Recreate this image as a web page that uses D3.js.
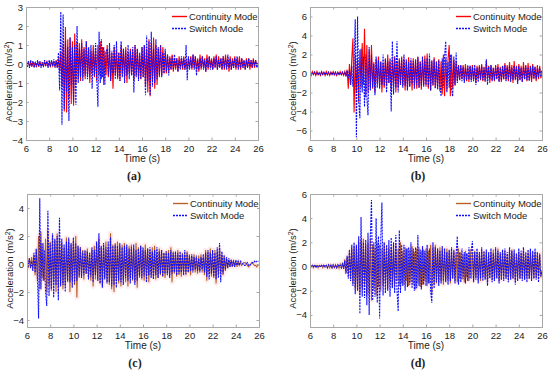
<!DOCTYPE html>
<html>
<head>
<meta charset="utf-8">
<script src="https://d3js.org/d3.v7.min.js"></script>
<style>
  body { margin: 0; background: #fff; }
  svg text { font-family: "Liberation Sans", Arial, sans-serif; fill: #222; }
  .cap { font-family: "Liberation Serif", "Times New Roman", serif; font-weight: bold; }
</style>
</head>
<body>
<svg id="chart" width="550" height="374"></svg>
<script>
// time axis: 6 s to 26 s, one value every 0.1 s
var tStart = 6, tStep = 0.1;
var xTicks = [6, 8, 10, 12, 14, 16, 18, 20, 22, 24, 26];

// (a)
var contA = [
  0.05,-0.1,0.08,-0.12,0.1,-0.15,0.12,-0.1,0.08,-0.12,
  0.1,-0.15,0.12,-0.1,0.05,-0.12,0.1,-0.08,0.12,-0.1,
  0.08,-0.12,0.15,-0.1,0.1,-0.15,0.2,-0.2,0.3,-0.4,
  0.6,-1.2,1.0,-2.5,1.95,-2.55,1.3,-1.8,1.4,-2.1,
  1.2,-2.2,1.6,-1.0,1.2,-0.8,1.1,-0.9,1.3,-0.7,
  0.9,-0.8,1.2,-0.6,0.8,-1.0,0.7,-0.5,1.0,-0.7,
  0.8,-0.9,1.0,-0.6,1.2,-0.8,0.9,-1.1,0.7,-0.6,
  1.0,-0.7,0.8,-0.9,0.6,-1.3,0.9,-0.6,0.7,-0.8,
  0.6,-0.9,1.0,-0.5,0.8,-0.7,0.9,-1.0,0.6,-0.5,
  0.8,-0.6,0.7,-0.9,1.0,-0.6,0.8,-0.7,0.5,-0.8,
  0.9,-0.7,1.0,-1.2,0.8,-1.5,1.3,-1.7,1.1,-0.9,
  1.4,-1.3,1.0,-1.1,0.8,-0.7,1.0,-0.6,0.9,-0.5,
  0.6,-0.5,0.5,-0.4,0.4,-0.3,0.5,-0.4,0.3,-0.3,
  0.3,-0.4,0.4,-0.2,0.3,-0.3,0.4,-0.3,0.2,-0.3,
  0.3,-0.2,0.4,-0.3,0.5,-0.2,0.4,-0.3,0.3,-0.4,
  0.5,-0.3,0.4,-0.2,0.3,-0.4,0.5,-0.3,0.4,-0.2,
  0.3,-0.3,0.4,-0.2,0.5,-0.3,0.4,-0.2,0.3,-0.3,
  0.4,-0.3,0.5,-0.2,0.3,-0.4,0.4,-0.3,0.3,-0.2,
  0.4,-0.3,0.3,-0.2,0.4,-0.3,0.3,-0.2,0.2,-0.3,
  0.3,-0.2,0.3,-0.3,0.2,-0.2,0.3,-0.2,0.2,-0.1,
  -0.1];
var switchA = [
  0.2,-0.15,0.15,-0.2,0.2,-0.1,0.15,-0.2,0.1,-0.15,
  0.2,-0.1,0.15,-0.2,0.1,-0.15,0.2,-0.1,0.15,-0.2,
  0.2,-0.15,0.2,-0.1,0.25,-0.2,0.15,-0.2,0.6,-1.4,
  2.75,-3.2,2.6,-2.4,1.2,-1.5,0.9,-3.0,1.4,-1.1,
  0.9,-2.0,1.0,-2.15,2.0,-1.0,0.8,-0.7,1.1,-0.9,
  0.8,-0.6,1.2,-0.8,0.9,-0.7,1.0,-1.3,0.7,-0.6,
  1.1,-0.8,-2.25,1.7,-1.0,1.3,-0.7,0.9,-1.1,0.6,
  0.8,-0.6,1.1,-0.9,0.7,-0.5,1.0,-0.8,1.2,-0.7,
  0.6,-0.9,1.2,-0.7,0.8,-1.0,0.7,-0.6,1.0,-0.8,
  0.7,-0.6,0.9,-1.5,1.0,-0.7,0.8,-0.9,0.6,-0.8,
  0.9,-0.7,1.0,-1.65,1.5,-0.9,1.2,-1.65,1.7,-1.2,
  0.8,-1.0,1.3,-0.8,0.9,-0.6,1.0,-0.7,0.6,-0.5,
  0.8,-0.4,0.5,-0.6,0.3,-0.3,0.4,-0.3,0.5,-0.2,
  0.3,-0.4,0.2,-0.3,0.4,-0.2,0.3,-0.3,1.0,-0.85,
  0.4,-0.3,0.3,-0.2,0.5,-0.3,0.4,-0.6,0.2,-0.3,
  0.3,-0.2,0.4,-0.3,0.2,-0.4,0.3,-0.2,0.4,-0.3,
  0.2,-0.3,0.3,-0.2,0.4,-0.3,0.2,-0.2,0.3,-0.3,
  0.4,-0.2,0.3,-0.3,0.5,-0.2,0.3,-0.3,0.2,-0.2,
  0.3,-0.2,0.4,-0.3,0.2,-0.2,0.3,-0.2,0.2,-0.3,
  0.2,-0.2,0.3,-0.1,0.2,-0.2,0.2,-0.1,0.2,-0.2,
  0.1];

// (b)
var contB = [
  0.1,-0.2,0.2,-0.1,0.15,-0.2,0.2,-0.15,0.1,-0.2,
  0.2,-0.1,0.15,-0.2,0.2,-0.15,0.1,-0.2,0.15,-0.1,
  0.2,-0.15,0.1,-0.2,0.15,-0.1,0.2,-0.15,0.1,-0.2,
  0.2,-0.3,0.4,-1.6,1.0,-1.2,1.5,3.7,-4.1,2.0,
  -2.0,1.5,-3.0,2.5,-1.5,3.2,-1.2,4.7,-2.5,3.0,
  -2.0,2.5,-1.5,3.0,-1.6,1.2,-2.0,1.5,-1.0,1.8,
  -1.4,1.3,-2.0,1.0,-1.5,1.6,-1.2,2.0,-1.0,1.3,
  -1.8,1.5,-1.3,1.8,-2.0,1.2,-1.5,1.6,-1.2,1.8,
  -1.3,1.5,-1.8,1.2,-1.6,1.7,-1.4,1.3,-1.8,1.6,
  -1.2,1.5,-1.6,1.8,-1.5,1.3,-1.7,1.5,-1.2,1.9,
  -1.4,2.1,-1.6,1.5,-1.8,1.4,-1.3,1.7,-1.5,1.3,
  -1.6,1.5,-1.9,1.3,-2.2,2.0,-2.4,1.6,-1.8,1.5,
  3.0,-2.4,2.0,-1.6,1.4,-1.3,1.2,-0.8,0.9,-0.7,
  0.8,-0.6,0.9,-0.7,1.0,-0.8,0.7,-0.9,0.8,-0.6,
  0.9,-0.7,0.6,-1.0,0.8,-0.6,0.9,-0.7,1.0,-0.8,
  0.7,-0.9,1.3,-0.6,0.8,-1.0,0.9,-0.7,0.6,-0.8,
  0.9,-0.6,1.0,-0.8,0.7,-0.9,0.8,-0.6,1.1,-0.7,
  0.9,-0.8,1.2,-0.6,0.9,-1.0,1.3,-0.7,0.8,-0.9,
  1.0,-0.7,0.8,-0.9,1.2,-0.6,0.9,-0.8,1.1,-0.7,
  0.8,-0.9,1.0,-0.6,0.7,-0.8,0.9,-0.6,0.8,-0.5,
  0.3];
var switchB = [
  0.1,-0.15,0.1,-0.1,0.15,-0.1,0.1,-0.15,0.1,-0.1,
  0.15,-0.1,0.1,-0.15,0.1,-0.1,0.15,-0.1,0.1,-0.15,
  0.1,-0.1,0.15,-0.1,0.1,-0.15,0.1,-0.1,0.15,-0.1,
  0.1,-0.2,0.3,-0.5,0.4,-1.2,0.8,-1.4,1.2,5.7,
  -6.7,6.0,-3.0,-4.7,2.6,-2.0,1.8,-3.5,2.0,-2.5,
  -4.4,2.8,-1.8,2.0,-1.5,1.0,-2.3,1.8,-1.5,1.4,
  -1.6,1.2,-1.2,2.0,-1.3,1.5,-2.0,1.3,-1.0,1.6,
  -4.0,3.4,-2.2,1.8,-1.5,3.4,-2.0,1.4,-1.2,1.6,
  -1.5,2.0,-1.3,1.5,-1.8,1.2,-1.4,1.6,-1.1,1.3,
  -1.6,1.4,-1.2,1.7,-1.5,1.2,-1.3,1.8,-1.4,1.5,
  -1.2,1.6,-1.4,2.1,-1.8,1.3,-1.2,1.5,-1.6,1.2,
  -1.7,1.4,-1.3,-2.4,1.6,-1.5,1.8,3.4,-2.0,1.2,
  -1.5,2.0,-1.6,-2.4,1.8,-1.2,2.2,-1.0,0.8,-0.7,
  0.9,-0.8,0.7,-1.0,0.6,-0.7,0.9,-0.6,0.8,-0.9,
  0.7,-0.8,0.9,-1.2,0.6,-0.9,0.7,-0.6,0.8,-0.7,
  0.6,-0.8,1.5,-1.2,0.7,-0.6,0.9,-0.8,0.6,-0.7,
  0.8,-0.6,0.7,-0.9,0.6,-0.7,0.8,-0.6,0.9,-0.8,
  0.7,-0.6,0.8,-0.9,0.6,-0.7,0.8,-0.6,0.7,-1.1,
  0.8,-0.7,0.6,-0.9,0.7,-0.6,0.8,-0.7,0.6,-0.8,
  0.7,-0.6,0.8,-0.5,0.7,-0.6,0.5,-0.4,0.6,-0.3,
  0.3];

// (c)
var contC = [
  0.2,-0.3,0.4,-0.2,0.5,-0.3,0.6,-0.8,1.0,-1.2,
  2.0,-1.8,2.3,-1.0,1.5,-1.2,1.8,-2.0,2.4,-1.5,
  1.6,-1.8,2.0,-1.3,1.7,-2.0,2.2,-1.6,1.8,-1.4,
  1.5,-1.8,1.2,-1.6,1.9,-1.3,1.6,-2.0,1.4,-1.2,
  1.7,-1.5,2.0,-2.4,1.3,-1.0,1.2,-0.8,1.0,-1.1,
  0.9,-0.7,1.1,-0.9,0.8,-1.2,1.0,-1.6,1.3,-1.1,
  1.5,-1.2,1.8,-1.4,1.2,-1.6,1.4,-1.0,1.6,-1.3,
  1.2,-1.5,2.2,-1.8,1.4,-2.0,1.5,-1.2,1.6,-1.4,
  1.3,-1.6,1.4,-1.1,1.5,-1.3,1.2,-1.6,1.3,-1.0,
  1.4,-1.2,1.1,-1.3,1.5,-1.7,1.2,-1.0,1.3,-1.1,
  1.0,-1.2,1.4,-0.9,1.1,-1.3,1.0,-0.8,1.2,-1.0,
  1.3,-1.1,0.9,-1.0,1.1,-0.8,1.0,-0.9,0.8,-1.0,
  0.9,-0.7,1.0,-0.8,1.2,-1.3,0.9,-0.7,0.8,-0.9,
  1.0,-0.8,0.7,-0.9,0.8,-0.6,0.7,-0.8,0.9,-0.6,
  0.7,-0.8,0.6,-0.5,0.7,-0.6,0.5,-0.7,0.6,-0.5,
  0.7,-0.6,0.5,-0.8,1.0,-1.2,0.9,-0.7,1.1,-0.9,
  0.8,-1.0,1.0,-1.4,0.9,-0.8,1.1,-0.6,0.7,-0.8,
  0.6,-0.5,0.4,-0.3,0.3,-0.2,0.3,-0.2,0.2,-0.2,
  0.2,-0.2,0.2,-0.1,0.1,-0.1,0.0,0.1,0.1,0.0,
  -0.1,-0.2,-0.1,0.0,0.1,0.0,-0.1,-0.1,-0.2,-0.1,
  0.0];
var switchC = [
  0.3,-0.2,0.4,-0.3,0.2,-0.5,0.8,-0.6,1.1,-1.0,
  -3.9,4.7,-1.8,1.5,-1.2,1.0,-2.0,-3.0,3.8,-2.3,
  1.5,-1.9,2.2,-2.4,1.8,-1.5,2.0,-2.6,3.3,-1.6,
  1.8,-1.5,1.4,-2.0,1.6,-1.2,1.9,-1.3,1.5,-1.7,
  1.9,-1.4,1.5,-1.2,1.3,-0.9,1.2,-1.0,0.9,-0.8,
  1.0,-0.7,0.9,-1.1,0.8,-0.9,1.2,-1.3,1.0,-0.8,
  1.6,-1.2,2.2,-1.4,1.3,-1.7,1.5,-1.1,1.2,-1.4,
  1.6,-1.3,1.9,-1.6,1.3,-1.5,1.4,-1.7,1.3,-1.2,
  1.5,-1.3,1.2,-1.5,1.3,-1.0,1.4,-1.2,1.1,-1.4,
  1.2,-1.1,1.4,-1.5,1.0,-1.2,1.1,-0.9,1.3,-1.0,
  1.2,-0.9,1.0,-1.3,1.1,-0.8,1.2,-1.0,0.9,-1.1,
  1.0,-0.8,1.2,-1.0,0.9,-0.7,1.0,-0.9,0.8,-0.7,
  0.9,-0.8,0.8,-1.0,1.0,-0.7,0.8,-0.6,0.9,-0.8,
  0.8,-0.7,0.9,-0.6,0.7,-0.8,1.0,-0.7,0.8,-0.6,
  0.6,-0.5,0.7,-0.6,0.5,-0.4,0.6,-0.5,0.4,-0.6,
  0.5,-0.4,0.7,-0.6,0.8,-0.9,1.0,-1.1,0.8,-0.7,
  1.0,-0.9,0.8,-1.1,1.2,-1.0,1.5,-1.3,0.9,-0.7,
  0.6,-0.4,0.5,-0.3,0.4,-0.2,0.3,-0.2,0.3,-0.2,
  0.3,-0.1,0.2,-0.1,0.2,0.1,0.0,-0.1,-0.1,0.0,
  0.1,-0.1,-0.1,0.0,0.1,0.1,0.2,0.1,0.2,0.2,
  0.2];

// (d)
var contD = [
  0.1,0.0,0.1,-0.1,0.1,0.0,0.1,-0.1,0.1,0.0,
  0.1,-0.1,0.1,0.0,0.1,-0.1,0.1,-0.1,0.15,-0.1,
  0.1,-0.1,0.15,-0.1,0.1,-0.15,0.2,-0.1,0.3,-0.2,
  0.6,-0.5,0.8,-0.6,1.2,-1.0,1.5,-1.4,1.7,-1.8,
  1.6,-2.0,2.0,-2.2,2.2,-1.8,2.3,-1.5,1.8,-2.4,
  2.0,-2.2,2.3,-2.8,1.8,-2.0,1.6,-2.4,2.0,-1.7,
  1.8,-2.0,1.5,-1.6,2.0,-1.4,1.7,-1.8,1.5,-1.3,
  1.6,-1.7,1.4,-1.5,1.8,-1.2,1.5,-1.6,2.0,-1.4,
  1.3,-1.5,1.6,-1.2,1.5,-1.6,1.4,-1.3,1.7,-1.5,
  1.2,-1.9,1.5,-1.4,1.6,-1.7,1.3,-1.5,1.4,-1.2,
  1.5,-1.6,1.3,-1.4,1.8,-2.2,1.6,-1.5,1.8,-1.4,
  1.5,-1.3,1.6,-1.2,1.4,-1.5,1.3,-1.2,1.5,-1.1,
  1.3,-1.4,1.2,-1.0,1.4,-1.2,1.1,-1.3,1.5,-1.0,
  1.2,-1.1,1.0,-1.3,1.3,-0.9,1.1,-1.2,1.4,-1.0,
  1.1,-1.2,1.3,-0.9,1.2,-1.1,1.0,-1.2,1.3,-0.9,
  1.2,-1.0,1.1,-1.3,1.0,-0.9,1.2,-1.1,1.4,-1.0,
  1.1,-0.9,1.5,-1.2,1.0,-1.1,1.2,-0.8,1.3,-1.0,
  1.0,-1.1,1.2,-0.9,1.4,-1.0,1.1,-1.2,1.0,-0.8,
  1.2,-1.0,1.1,-0.9,1.3,-1.1,1.0,-0.9,1.2,-1.0,
  1.1,-0.8,1.0,-1.0,1.2,-0.9,1.0,-0.8,1.1,-0.9,
  -0.3];
var switchD = [
  0.15,-0.05,0.1,0.0,0.15,-0.1,0.1,0.0,0.1,-0.05,
  0.1,0.0,0.15,-0.05,0.1,-0.1,0.15,0.0,0.1,-0.1,
  0.15,-0.05,0.1,-0.1,0.15,0.0,0.1,-0.1,0.2,-0.2,
  0.5,-0.6,0.9,-1.0,1.4,-1.2,1.8,-1.6,2.0,-2.3,
  1.8,-2.0,2.5,-3.9,4.1,-2.5,2.0,-2.6,2.2,-3.2,
  2.8,-4.0,2.5,5.5,-2.8,2.0,-2.5,4.0,-3.0,2.5,
  -4.3,2.3,5.3,-2.4,2.0,-2.2,1.8,-2.0,2.2,-2.5,
  2.4,-1.8,2.0,-2.2,2.6,-2.0,-3.7,3.0,-2.2,1.8,
  -1.6,1.8,-2.0,1.5,-1.7,1.6,-1.5,2.0,-1.8,1.5,
  -2.0,1.6,-1.8,2.6,-1.6,1.4,-1.9,1.7,-1.5,1.3,
  -1.6,1.8,-1.4,1.5,-2.0,-3.0,2.0,-1.8,1.6,-1.3,
  1.5,-1.6,1.3,-1.4,1.7,-1.2,1.5,-1.3,1.2,-1.5,
  1.4,-1.2,1.6,-1.0,1.3,-1.4,1.1,2.5,-1.5,1.2,
  -1.3,1.5,-1.0,1.2,-1.4,1.1,-1.2,1.6,-1.0,1.3,
  2.1,-1.3,1.2,-1.1,1.5,-1.4,1.2,-1.0,1.6,-1.2,
  1.3,-1.1,1.4,-1.6,1.2,-1.0,1.5,-1.3,1.1,-1.2,
  1.6,-1.0,1.3,-1.4,1.2,-1.1,1.4,-1.2,1.5,-1.0,
  1.2,-1.3,1.6,-1.1,1.3,-1.0,1.4,-1.5,1.1,-1.2,
  1.5,-1.0,1.3,-1.2,1.6,-1.1,1.2,-1.3,1.4,-1.0,
  1.5,-1.2,1.3,-1.0,1.5,-1.1,1.2,-1.3,1.0,-0.8,
  -0.4];

var panels = [
  { cap: "(a)", left: 26,  top: 7,   yDom: [-4, 3],   yTicks: [-4,-3,-2,-1,0,1,2,3], cont: contA, sw: switchA, contColor: "#ff0000", haze: false },
  { cap: "(b)", left: 310, top: 7,   yDom: [-7, 7],   yTicks: [-6,-4,-2,0,2,4,6],    cont: contB, sw: switchB, contColor: "#ff0000", haze: false },
  { cap: "(c)", left: 27,  top: 194, yDom: [-4.5, 5], yTicks: [-4,-2,0,2,4],         cont: contC, sw: switchC, contColor: "#b8602a", haze: true },
  { cap: "(d)", left: 310, top: 194, yDom: [-5, 6],   yTicks: [-4,-2,0,2,4,6],       cont: contD, sw: switchD, contColor: "#b8602a", haze: true }
];

var W = 232, H = 133;
var svg = d3.select("#chart");

panels.forEach(function (p) {
  var g = svg.append("g").attr("transform", "translate(" + p.left + "," + p.top + ")");
  var x = d3.scaleLinear().domain([6, 26]).range([0, W]);
  var y = d3.scaleLinear().domain(p.yDom).range([H, 0]);

  g.append("defs").append("clipPath").attr("id", "clip" + p.left + p.top)
    .append("rect").attr("width", W).attr("height", H);

  var line = d3.line()
    .x(function (d, i) { return x(tStart + i * tStep); })
    .y(function (d) { return y(d); });

  var plot = g.append("g").attr("clip-path", "url(#clip" + p.left + p.top + ")");
  if (p.haze) {
    plot.append("path").datum(p.cont).attr("d", line)
      .attr("fill", "none").attr("stroke", "#ff8080").attr("stroke-width", 5)
      .attr("stroke-opacity", 0.15).attr("stroke-linejoin", "round");
  }
  plot.append("path").datum(p.cont).attr("d", line)
    .attr("fill", "none").attr("stroke", p.contColor).attr("stroke-width", 1.1);
  plot.append("path").datum(p.sw).attr("d", line)
    .attr("fill", "none").attr("stroke", "#1010ff").attr("stroke-width", 1.1)
    .attr("stroke-dasharray", "2,1");

  // axes, MATLAB style box with inward ticks
  var fmt = d3.format("d");
  var ax = g.append("g").attr("transform", "translate(0," + H + ")")
    .call(d3.axisBottom(x).tickValues(xTicks).tickSize(-2.5).tickPadding(5).tickFormat(fmt));
  var axTop = g.append("g").call(d3.axisTop(x).tickValues(xTicks).tickSize(-2.5).tickFormat(""));
  var ay = g.append("g").call(d3.axisLeft(y).tickValues(p.yTicks).tickSize(-2.5).tickPadding(3).tickFormat(fmt));
  var ayR = g.append("g").attr("transform", "translate(" + W + ",0)")
    .call(d3.axisRight(y).tickValues(p.yTicks).tickSize(-2.5).tickFormat(""));
  [ax, axTop, ay, ayR].forEach(function (a) {
    a.select(".domain").attr("stroke", "#a8a8a8");
    a.selectAll(".tick line").attr("stroke", "#a8a8a8");
    a.selectAll("text").style("font-size", "9.5px").attr("fill", "#222");
  });

  g.append("text").attr("x", W / 2).attr("y", H + 22)
    .attr("text-anchor", "middle").style("font-size", "10px").text("Time (s)");

  var yl = g.append("text")
    .attr("transform", "translate(-14," + (H / 2 + 8) + ") rotate(-90)")
    .attr("text-anchor", "middle").style("font-size", "9.5px");
  yl.append("tspan").text("Acceleration (m/s");
  yl.append("tspan").attr("dy", -3).style("font-size", "7px").text("2");
  yl.append("tspan").attr("dy", 3).text(")");

  // legend
  var lg = g.append("g").attr("transform", "translate(" + (W - 88) + ",4)");
  lg.append("rect").attr("x", -2).attr("y", 0).attr("width", 88).attr("height", 24).attr("fill", "#fff");
  lg.append("line").attr("x1", 2).attr("x2", 17).attr("y1", 5.5).attr("y2", 5.5)
    .attr("stroke", p.contColor).attr("stroke-width", 1.4);
  lg.append("line").attr("x1", 2).attr("x2", 17).attr("y1", 17.5).attr("y2", 17.5)
    .attr("stroke", "#1010ff").attr("stroke-width", 1.4).attr("stroke-dasharray", "2,1");
  lg.append("text").attr("x", 19).attr("y", 9).style("font-size", "9.5px").text("Continuity Mode");
  lg.append("text").attr("x", 19).attr("y", 21).style("font-size", "9.5px").text("Switch Mode");

  g.append("text").attr("class", "cap").attr("x", W / 2 - 8).attr("y", H + 40)
    .attr("text-anchor", "middle").style("font-size", "12px").text(p.cap);
});
</script>
</body>
</html>
